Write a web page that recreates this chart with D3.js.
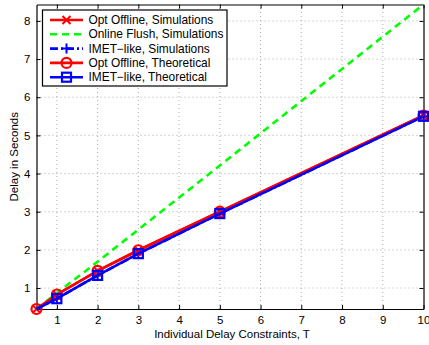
<!DOCTYPE html>
<html>
<head>
<meta charset="utf-8">
<script src="https://cdn.jsdelivr.net/npm/d3@7"></script>
<style>
  html, body { margin: 0; padding: 0; background: #fff; }
  svg { display: block; font-family: "Liberation Sans", Arial, sans-serif; }
</style>
</head>
<body>
<svg id="chart" width="429" height="345"></svg>
<script>
// Individual delay constraint T
const tValues = [0.5, 1, 2, 3, 5, 10];
// Delay in seconds for each scheme
const optOfflineSim   = [0.45, 0.83, 1.45, 1.99, 3.00, 5.52];
const onlineFlushSim  = [0.45, 0.87, 1.69, 2.53, 4.21, 8.43];
const imetSim         = [0.45, 0.72, 1.33, 1.90, 2.95, 5.50];
const optOfflineTheo  = [0.45, 0.83, 1.45, 1.99, 3.00, 5.52];
const imetTheo        = [0.45, 0.72, 1.33, 1.90, 2.95, 5.50];

const xTicks = [1, 2, 3, 4, 5, 6, 7, 8, 9, 10];
const yTicks = [1, 2, 3, 4, 5, 6, 7, 8];

const seriesNames = [
  "Opt Offline, Simulations",
  "Online Flush, Simulations",
  "IMET\u2212like, Simulations",
  "Opt Offline, Theoretical",
  "IMET\u2212like, Theoretical"
];

// markerFrom: index of the first point that gets a marker
const series = [
  { name: seriesNames[0], values: optOfflineSim,  color: "#ff0000", dash: null,      marker: "x", markerFrom: 0 },
  { name: seriesNames[1], values: onlineFlushSim, color: "#00ff00", dash: "7,5",     marker: null, markerFrom: 0 },
  { name: seriesNames[2], values: imetSim,        color: "#0000ff", dash: "8,3,2,3", marker: "+", markerFrom: 1 },
  { name: seriesNames[3], values: optOfflineTheo, color: "#ff0000", dash: null,      marker: "o", markerFrom: 0 },
  { name: seriesNames[4], values: imetTheo,       color: "#0000ff", dash: null,      marker: "s", markerFrom: 1 }
];

const svg = d3.select("#chart");
const margin = { left: 36.5, right: 5.5, top: 4.5, bottom: 36 };
const W = 429, H = 345;
const x0 = margin.left, x1 = W - margin.right, y0 = H - margin.bottom, y1 = margin.top;

const x = d3.scaleLinear().domain([0.5, 10]).range([x0, x1]);
const y = d3.scaleLinear().domain([0.45, 8.43]).range([y0, y1]);

// dotted grid
const grid = svg.append("g");
grid.selectAll("line.gx").data(xTicks.filter(t => t < 10)).enter().append("line")
  .attr("x1", d => x(d)).attr("x2", d => x(d)).attr("y1", y0).attr("y2", y1)
  .attr("stroke", "#999").attr("stroke-width", 0.8).attr("stroke-dasharray", "1,3");
grid.selectAll("line.gy").data(yTicks).enter().append("line")
  .attr("x1", x0).attr("x2", x1).attr("y1", d => y(d)).attr("y2", d => y(d))
  .attr("stroke", "#999").attr("stroke-width", 0.8).attr("stroke-dasharray", "1,3");

// axes with inward ticks on all four sides
const tickLen = 4;
const axB = svg.append("g").attr("transform", `translate(0,${y0})`)
  .call(d3.axisBottom(x).tickValues(xTicks).tickSizeInner(-tickLen).tickSizeOuter(0).tickPadding(7).tickFormat(d3.format("d")));
const axT = svg.append("g").attr("transform", `translate(0,${y1})`)
  .call(d3.axisTop(x).tickValues(xTicks).tickSizeInner(-tickLen).tickSizeOuter(0).tickFormat(""));
const axL = svg.append("g").attr("transform", `translate(${x0},0)`)
  .call(d3.axisLeft(y).tickValues(yTicks).tickSizeInner(-tickLen).tickSizeOuter(0).tickPadding(6).tickFormat(d3.format("d")));
const axR = svg.append("g").attr("transform", `translate(${x1},0)`)
  .call(d3.axisRight(y).tickValues(yTicks).tickSizeInner(-tickLen).tickSizeOuter(0).tickFormat(""));
[axB, axT, axL, axR].forEach(a => {
  a.select(".domain").attr("stroke", "#000").attr("stroke-width", 1.2);
  a.selectAll(".tick line").attr("stroke", "#000").attr("stroke-width", 1);
  a.selectAll(".tick text").attr("font-size", 11.5).attr("fill", "#000")
    .attr("font-family", "Liberation Sans, Arial, sans-serif");
});

// axis titles
svg.append("text").attr("x", (x0 + x1) / 2 + 2).attr("y", 338)
  .attr("text-anchor", "middle").attr("font-size", 11.5).text("Individual Delay Constraints, T");
svg.append("text").attr("transform", `translate(18,${(y0 + y1) / 2}) rotate(-90)`)
  .attr("text-anchor", "middle").attr("font-size", 11.5).text("Delay in Seconds");

// series lines and markers
const plot = svg.append("g");
const line = d3.line().x((d, i) => x(tValues[i])).y(d => y(d));

function drawMarker(g, type, cx, cy, color) {
  if (type === "x") {
    const r = 4;
    g.append("path").attr("d", `M${cx - r},${cy - r}L${cx + r},${cy + r}M${cx - r},${cy + r}L${cx + r},${cy - r}`)
      .attr("stroke", color).attr("stroke-width", 2).attr("fill", "none");
  } else if (type === "+") {
    const r = 5;
    g.append("path").attr("d", `M${cx - r},${cy}L${cx + r},${cy}M${cx},${cy - r}L${cx},${cy + r}`)
      .attr("stroke", color).attr("stroke-width", 2).attr("fill", "none");
  } else if (type === "o") {
    g.append("circle").attr("cx", cx).attr("cy", cy).attr("r", 5)
      .attr("stroke", color).attr("stroke-width", 2.2).attr("fill", "none");
  } else if (type === "s") {
    g.append("rect").attr("x", cx - 4.5).attr("y", cy - 4.5).attr("width", 9).attr("height", 9)
      .attr("stroke", color).attr("stroke-width", 2.2).attr("fill", "none");
  }
}

series.forEach(s => {
  plot.append("path").datum(s.values).attr("d", line)
    .attr("fill", "none").attr("stroke", s.color).attr("stroke-width", 2.6)
    .attr("stroke-dasharray", s.dash);
  if (s.marker) {
    s.values.forEach((v, i) => {
      if (i >= s.markerFrom) drawMarker(plot, s.marker, x(tValues[i]), y(v), s.color);
    });
  }
});

// legend
const lg = svg.append("g");
lg.append("rect").attr("x", 42.5).attr("y", 10).attr("width", 184.5).attr("height", 76)
  .attr("fill", "#fff").attr("stroke", "#000").attr("stroke-width", 1.2);
const rowY = [20, 34.3, 48.6, 62.9, 77.2];
series.forEach((s, i) => {
  const yy = rowY[i];
  lg.append("line").attr("x1", 50).attr("x2", 83).attr("y1", yy).attr("y2", yy)
    .attr("stroke", s.color).attr("stroke-width", 2.6).attr("stroke-dasharray", s.dash);
  if (s.marker) drawMarker(lg, s.marker, 66.5, yy, s.color);
  lg.append("text").attr("x", 88.5).attr("y", yy + 4).attr("font-size", 11.9).text(s.name);
});
</script>
</body>
</html>
